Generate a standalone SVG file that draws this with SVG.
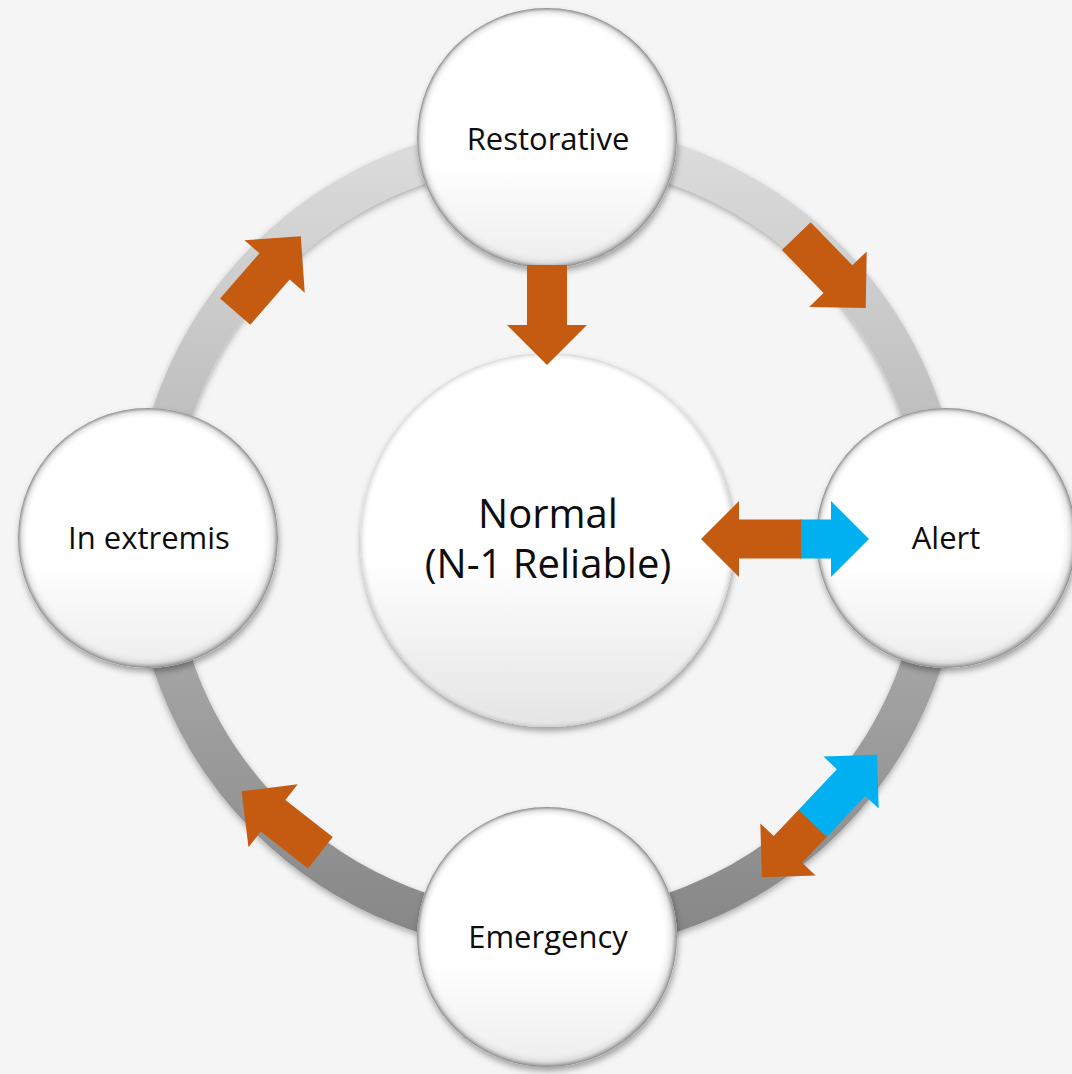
<svg xmlns="http://www.w3.org/2000/svg" width="1072" height="1074" viewBox="0 0 1072 1074">
  <defs>
    <style>
      .label { font-family: "Open Sans", "Liberation Sans", sans-serif; fill: #0d0d0d; text-anchor: middle; }
      .small { font-size: 31px; }
      .big { font-size: 40px; }
      .orange { fill: #C55A11; }
      .blue { fill: #00B0F0; }
      .node { fill: url(#nodeFill); filter: url(#nodeShadow); }
      .rim { fill: url(#nodeRim); }
    </style>
    <!-- grey ring, lighter at the top, darker at the bottom -->
    <linearGradient id="ringGrad" gradientUnits="userSpaceOnUse" x1="0" y1="143" x2="0" y2="933">
      <stop offset="0" stop-color="#dcdcdc"/>
      <stop offset="0.5" stop-color="#b2b2b2"/>
      <stop offset="1" stop-color="#878787"/>
    </linearGradient>
    <!-- white button fill with a faint grey lower half -->
    <linearGradient id="nodeFill" x1="0" y1="0" x2="0" y2="1">
      <stop offset="0" stop-color="#ffffff"/>
      <stop offset="0.6" stop-color="#ffffff"/>
      <stop offset="1" stop-color="#ededed"/>
    </linearGradient>
    <!-- bevelled rim, wider towards the lower right -->
    <radialGradient id="nodeRim" cx="0.5" cy="0.5" r="0.5" fx="0.44" fy="0.42">
      <stop offset="0" stop-color="#ffffff" stop-opacity="0"/>
      <stop offset="0.9" stop-color="#ffffff" stop-opacity="0"/>
      <stop offset="0.965" stop-color="#cfcfcf" stop-opacity="0.55"/>
      <stop offset="1" stop-color="#7a7a7a" stop-opacity="0.9"/>
    </radialGradient>
    <linearGradient id="centerFill" x1="0" y1="0" x2="0" y2="1">
      <stop offset="0" stop-color="#ffffff"/>
      <stop offset="0.55" stop-color="#ffffff"/>
      <stop offset="1" stop-color="#e4e4e4"/>
    </linearGradient>
    <radialGradient id="centerRim" cx="0.5" cy="0.5" r="0.5">
      <stop offset="0" stop-color="#ffffff" stop-opacity="0"/>
      <stop offset="0.96" stop-color="#ffffff" stop-opacity="0"/>
      <stop offset="1" stop-color="#bdbdbd" stop-opacity="0.6"/>
    </radialGradient>
    <filter id="nodeShadow" x="-20%" y="-20%" width="140%" height="140%">
      <feGaussianBlur in="SourceAlpha" stdDeviation="3"/>
      <feOffset dx="1" dy="4" result="b"/>
      <feFlood flood-color="#000" flood-opacity="0.35"/>
      <feComposite in2="b" operator="in"/>
      <feMerge><feMergeNode/><feMergeNode in="SourceGraphic"/></feMerge>
    </filter>
    <filter id="ringShadow" x="-10%" y="-10%" width="120%" height="120%">
      <feGaussianBlur in="SourceAlpha" stdDeviation="3"/>
      <feOffset dx="0" dy="3" result="b"/>
      <feFlood flood-color="#000" flood-opacity="0.3"/>
      <feComposite in2="b" operator="in"/>
      <feMerge><feMergeNode/><feMergeNode in="SourceGraphic"/></feMerge>
    </filter>
    <!-- one-way block arrow pointing along +x -->
    <polygon id="arrow" points="-50,-20 10,-20 10,-40 50,0 10,40 10,20 -50,20"/>
  </defs>

  <rect width="1072" height="1074" fill="#f5f5f5"/>

  <!-- cycle ring -->
  <g id="ring">
    <circle cx="547" cy="538" r="395" fill="none" stroke="url(#ringGrad)" stroke-width="40" filter="url(#ringShadow)"/>
  </g>

  <g id="normal">
    <circle cx="547" cy="540" r="187" fill="url(#centerFill)" filter="url(#nodeShadow)"/>
    <circle cx="547" cy="540" r="187" fill="url(#centerRim)"/>
    <text class="label big" x="548" y="528">Normal<tspan x="548" dy="50">(N-1 Reliable)</tspan></text>
  </g>

  <g id="restorative">
    <circle class="node" cx="547" cy="138" r="130"/>
    <circle class="rim" cx="547" cy="138" r="130"/>
    <text class="label small" x="548" y="150">Restorative</text>
  </g>

  <g id="alert">
    <circle class="node" cx="946" cy="538" r="130"/>
    <circle class="rim" cx="946" cy="538" r="130"/>
    <text class="label small" x="946" y="549">Alert</text>
  </g>

  <g id="emergency">
    <circle class="node" cx="547" cy="937" r="130"/>
    <circle class="rim" cx="547" cy="937" r="130"/>
    <text class="label small" x="548" y="948">Emergency</text>
  </g>

  <g id="in-extremis">
    <circle class="node" cx="148" cy="538" r="130"/>
    <circle class="rim" cx="148" cy="538" r="130"/>
    <text class="label small" x="149" y="549">In extremis</text>
  </g>

  <!-- transition arrows -->
  <g id="connectors">
    <use href="#arrow" class="orange" transform="translate(547,315) rotate(90)"/>
    <use href="#arrow" class="orange" transform="translate(831,272) rotate(46)"/>
    <use href="#arrow" class="orange" transform="translate(268,274) rotate(-49)"/>
    <use href="#arrow" class="orange" transform="translate(281,822) rotate(218)"/>
    <!-- Normal <-> Alert -->
    <g transform="translate(785,539)">
      <polygon class="orange" points="-84,0 -46,-38 -46,-19.5 17,-19.5 17,19.5 -46,19.5 -46,38"/>
      <polygon class="blue" points="16,-19.5 46,-19.5 46,-38 84,0 46,38 46,19.5 16,19.5"/>
    </g>
    <!-- Alert <-> Emergency -->
    <g transform="translate(819.5,816) rotate(-46.7)">
      <polygon class="orange" points="-84,0 -46,-38 -46,-19.5 -9,-19.5 -9,19.5 -46,19.5 -46,38"/>
      <polygon class="blue" points="-10,-19.5 46,-19.5 46,-38 84,0 46,38 46,19.5 -10,19.5"/>
    </g>
  </g>
</svg>
